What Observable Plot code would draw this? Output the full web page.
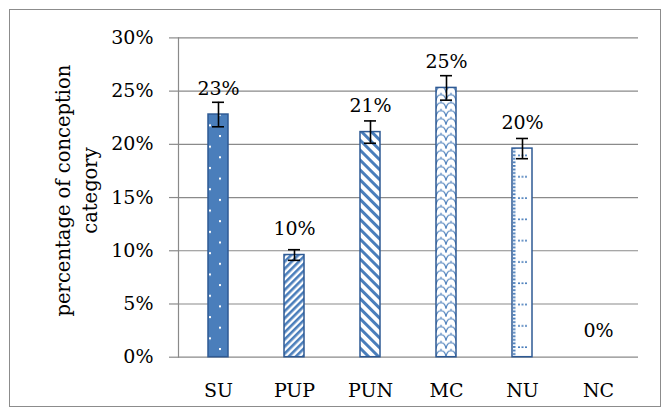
<!DOCTYPE html>
<html><head><meta charset="utf-8">
<script src="https://cdn.jsdelivr.net/npm/d3@7"></script>
<script src="https://cdn.jsdelivr.net/npm/@observablehq/plot@0.6"></script>
<style>
body{margin:0;background:#fff;}
#wrap{position:relative;width:661px;height:415px;overflow:hidden;background:#fff;}
#frame{position:absolute;left:9px;top:9px;width:652px;height:398px;border:1px solid #8c8c8c;box-sizing:border-box;}
#chart{position:absolute;left:0;top:0;}
</style></head><body>
<div id="wrap"><div id="frame"></div><div id="chart"></div></div>
<script>
const categories = ["SU", "PUP", "PUN", "MC", "NU", "NC"];
const values = [22.8, 9.6, 21.15, 25.3, 19.6, 0];
const errors = [1.15, 0.5, 1.05, 1.15, 0.95, 0];
const yTicks = [0, 5, 10, 15, 20, 25, 30];
const yLabel = "percentage of conception\ncategory";

const data = categories.map((c, i) => ({cat: c, value: values[i], err: errors[i]}));
const withErr = data.filter(d => d.err > 0);
const patternOf = {SU: "url(#pSU)", PUP: "url(#pPUP)", PUN: "url(#pPUN)", MC: "url(#pMC)", NU: "url(#pNU)", NC: "url(#pNC)"};

const BLUE = "#4a7ebb", EDGE = "#2e5a94", GRID = "#8a8a8a";

const plot = Plot.plot({
  width: 661, height: 415,
  marginLeft: 178, marginRight: 23, marginTop: 37.4, marginBottom: 58.3,
  style: {fontFamily: "DejaVu Serif", fontSize: "19px", color: "#000", background: "transparent"},
  x: {domain: categories, paddingInner: 0.74, paddingOuter: 0.37, label: null},
  y: {domain: [0, 30], ticks: yTicks, label: null},
  color: {type: "identity"},
  marks: [
    Plot.gridY(yTicks, {stroke: GRID, strokeOpacity: 1, strokeWidth: 1.2}),
    Plot.frame({anchor: "left", stroke: GRID, strokeWidth: 1.2}),
    Plot.axisY(yTicks, {tickSize: 9, tickPadding: 16, tickFormat: d => d + "%", stroke: GRID, strokeWidth: 1.2, fill: "#000"}),
    Plot.axisX({tickSize: 0, tickPadding: 26, fill: "#000"}),
    Plot.barY(data, {x: "cat", y: "value", fill: d => patternOf[d.cat], stroke: EDGE, strokeWidth: 1.5}),
    Plot.ruleX(withErr, {x: "cat", y1: d => d.value - d.err, y2: d => d.value + d.err, stroke: "#000", strokeWidth: 1.6}),
    Plot.tickY(withErr, {x: "cat", y: d => d.value + d.err, insetLeft: 4, insetRight: 4, stroke: "#000", strokeWidth: 1.6}),
    Plot.tickY(withErr, {x: "cat", y: d => d.value - d.err, insetLeft: 4, insetRight: 4, stroke: "#000", strokeWidth: 1.6}),
    Plot.text(data, {x: "cat", y: "value", text: d => Math.round(d.value) + "%", dy: -26, fill: "#000", fontSize: 19}),
    Plot.text([yLabel], {frameAnchor: "left", text: d => d, rotate: -90, textAnchor: "middle", lineAnchor: "middle", dx: -104, dy: -7, lineHeight: 1.4, fill: "#000", fontSize: 19.5})
  ]
});

document.getElementById("chart").appendChild(plot);

const svg = d3.select(plot);
const defs = svg.insert("defs", ":first-child");
// SU: solid blue with sparse white dots
const pSU = defs.append("pattern").attr("id", "pSU").attr("patternUnits", "userSpaceOnUse").attr("width", 20).attr("height", 21.3);
pSU.append("rect").attr("width", 20).attr("height", 21.3).attr("fill", BLUE);
pSU.append("rect").attr("x", 1).attr("y", 2).attr("width", 2).attr("height", 2).attr("fill", "#fff");
pSU.append("rect").attr("x", 11).attr("y", 12.6).attr("width", 2).attr("height", 2).attr("fill", "#fff");
// PUP: dense upward diagonal
const pPUP = defs.append("pattern").attr("id", "pPUP").attr("patternUnits", "userSpaceOnUse").attr("width", 5).attr("height", 5).attr("patternTransform", "rotate(45)");
pPUP.append("rect").attr("width", 5).attr("height", 5).attr("fill", "#fff");
pPUP.append("rect").attr("width", 2.6).attr("height", 5).attr("fill", BLUE);
// PUN: wide downward diagonal
const pPUN = defs.append("pattern").attr("id", "pPUN").attr("patternUnits", "userSpaceOnUse").attr("width", 7).attr("height", 7).attr("patternTransform", "rotate(-45)");
pPUN.append("rect").attr("width", 7).attr("height", 7).attr("fill", "#fff");
pPUN.append("rect").attr("width", 3).attr("height", 7).attr("fill", BLUE);
// MC: scales / arcs
const pMC = defs.append("pattern").attr("id", "pMC").attr("patternUnits", "userSpaceOnUse").attr("width", 10).attr("height", 8);
pMC.append("rect").attr("width", 10).attr("height", 8).attr("fill", "#fff");
pMC.append("path").attr("d", "M0,8 Q1,2 5,2 Q9,2 10,8").attr("fill", "none").attr("stroke", BLUE).attr("stroke-width", 1.2);
pMC.append("path").attr("d", "M5,2 L5,0").attr("fill", "none").attr("stroke", BLUE).attr("stroke-width", 1);
// NU: dashed left edge and dotted horizontal rows
const pNU = defs.append("pattern").attr("id", "pNU").attr("patternUnits", "userSpaceOnUse").attr("width", 20).attr("height", 21.3);
pNU.append("rect").attr("width", 20).attr("height", 21.3).attr("fill", "#fff");
for (let k = 0; k < 6; k++) pNU.append("rect").attr("x", 1).attr("y", k * 3.55).attr("width", 2.5).attr("height", 1.8).attr("fill", BLUE);
for (let k = 0; k < 3; k++) pNU.append("rect").attr("x", 6 + k * 3.5).attr("y", 11).attr("width", 2).attr("height", 1.6).attr("fill", BLUE);
const pNC = defs.append("pattern").attr("id", "pNC").attr("patternUnits", "userSpaceOnUse").attr("width", 4).attr("height", 4);
pNC.append("rect").attr("width", 4).attr("height", 4).attr("fill", "#fff");

// align pattern tiles with each bar's left/bottom edge
svg.selectAll("g[aria-label='bar'] rect").each(function(_, i) {
  const r = d3.select(this);
  const x = +r.attr("x"), y = +r.attr("y") + +r.attr("height");
  const id = patternOf[categories[i]].slice(5, -1);
  const p = defs.select("#" + id);
  if (!p.attr("patternTransform")) p.attr("x", x).attr("y", y);
});
</script>
</body></html>
